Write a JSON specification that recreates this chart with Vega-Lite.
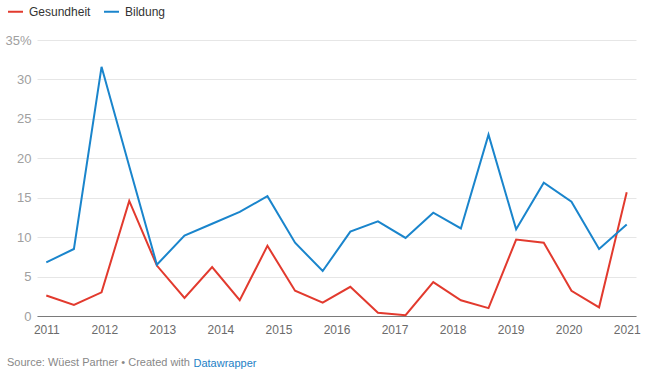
{
  "$schema": "https://vega.github.io/schema/vega-lite/v6.json",
  "width": 599,
  "height": 276,
  "autosize": {"type": "none"},
  "padding": {"left": 37, "top": 40, "right": 17, "bottom": 61},
  "background": "#ffffff",
  "config": {
    "font": "Liberation Sans",
    "view": {"stroke": null}
  },
  "title": {
    "text": "Source: Wüest Partner • Created with",
    "orient": "bottom",
    "anchor": "start",
    "frame": "group",
    "fontSize": 11,
    "fontWeight": "normal",
    "color": "#888888",
    "dx": -30,
    "offset": -11
  },
  "data": {
    "values": [
      {"x": 2011.000, "series": "Gesundheit", "value": 2.6},
      {"x": 2011.476, "series": "Gesundheit", "value": 1.4},
      {"x": 2011.952, "series": "Gesundheit", "value": 3.0},
      {"x": 2012.429, "series": "Gesundheit", "value": 14.6},
      {"x": 2012.905, "series": "Gesundheit", "value": 6.4},
      {"x": 2013.381, "series": "Gesundheit", "value": 2.3},
      {"x": 2013.857, "series": "Gesundheit", "value": 6.2},
      {"x": 2014.333, "series": "Gesundheit", "value": 2.0},
      {"x": 2014.810, "series": "Gesundheit", "value": 8.9},
      {"x": 2015.286, "series": "Gesundheit", "value": 3.2},
      {"x": 2015.762, "series": "Gesundheit", "value": 1.7},
      {"x": 2016.238, "series": "Gesundheit", "value": 3.7},
      {"x": 2016.714, "series": "Gesundheit", "value": 0.4},
      {"x": 2017.190, "series": "Gesundheit", "value": 0.1},
      {"x": 2017.667, "series": "Gesundheit", "value": 4.3},
      {"x": 2018.143, "series": "Gesundheit", "value": 2.0},
      {"x": 2018.619, "series": "Gesundheit", "value": 1.0},
      {"x": 2019.095, "series": "Gesundheit", "value": 9.7},
      {"x": 2019.571, "series": "Gesundheit", "value": 9.3},
      {"x": 2020.048, "series": "Gesundheit", "value": 3.2},
      {"x": 2020.524, "series": "Gesundheit", "value": 1.1},
      {"x": 2021.000, "series": "Gesundheit", "value": 15.7},
      {"x": 2011.000, "series": "Bildung", "value": 6.8},
      {"x": 2011.476, "series": "Bildung", "value": 8.5},
      {"x": 2011.952, "series": "Bildung", "value": 31.6},
      {"x": 2012.429, "series": "Bildung", "value": 19.0},
      {"x": 2012.905, "series": "Bildung", "value": 6.5},
      {"x": 2013.381, "series": "Bildung", "value": 10.2},
      {"x": 2013.857, "series": "Bildung", "value": 11.7},
      {"x": 2014.333, "series": "Bildung", "value": 13.2},
      {"x": 2014.810, "series": "Bildung", "value": 15.2},
      {"x": 2015.286, "series": "Bildung", "value": 9.3},
      {"x": 2015.762, "series": "Bildung", "value": 5.7},
      {"x": 2016.238, "series": "Bildung", "value": 10.7},
      {"x": 2016.714, "series": "Bildung", "value": 12.0},
      {"x": 2017.190, "series": "Bildung", "value": 9.9},
      {"x": 2017.667, "series": "Bildung", "value": 13.1},
      {"x": 2018.143, "series": "Bildung", "value": 11.1},
      {"x": 2018.619, "series": "Bildung", "value": 23.0},
      {"x": 2019.095, "series": "Bildung", "value": 11.0},
      {"x": 2019.571, "series": "Bildung", "value": 16.9},
      {"x": 2020.048, "series": "Bildung", "value": 14.5},
      {"x": 2020.524, "series": "Bildung", "value": 8.5},
      {"x": 2021.000, "series": "Bildung", "value": 11.6}
    ]
  },
  "mark": {"type": "line", "strokeWidth": 2, "strokeJoin": "miter"},
  "encoding": {
    "x": {
      "field": "x",
      "type": "quantitative",
      "scale": {"domain": [2010.84, 2021.16], "nice": false, "zero": false},
      "axis": {
        "values": [2011, 2012, 2013, 2014, 2015, 2016, 2017, 2018, 2019, 2020, 2021],
        "format": "d",
        "grid": false,
        "ticks": false,
        "domain": true,
        "domainColor": "#7a7a7a",
        "domainWidth": 1,
        "labelFontSize": 12,
        "labelColor": "#6b6b6b",
        "labelPadding": 8,
        "labelFlush": false,
        "title": "Datawrapper",
        "titleColor": "#1d81c6",
        "titleFontSize": 11,
        "titleFontWeight": "normal",
        "titleAlign": "left",
        "titleAnchor": "start",
        "titleBaseline": "alphabetic",
        "titleX": 156,
        "titleY": 50
      }
    },
    "y": {
      "field": "value",
      "type": "quantitative",
      "scale": {"domain": [0, 35], "nice": false},
      "axis": {
        "values": [0, 5, 10, 15, 20, 25, 30, 35],
        "labelExpr": "datum.value == 35 ? '35%' : datum.label",
        "grid": true,
        "gridColor": "#e6e6e6",
        "gridWidth": 1,
        "domain": false,
        "ticks": false,
        "labelFontSize": 13,
        "labelColor": "#a0a0a0",
        "labelPadding": 6,
        "title": null
      }
    },
    "color": {
      "field": "series",
      "type": "nominal",
      "scale": {"domain": ["Gesundheit", "Bildung"], "range": ["#e23a2e", "#1a85cc"]},
      "legend": {
        "title": null,
        "orient": "none",
        "direction": "horizontal",
        "legendX": -30,
        "legendY": -37,
        "symbolType": "stroke",
        "symbolSize": 225,
        "symbolStrokeWidth": 2,
        "labelFontSize": 12,
        "labelColor": "#333333",
        "labelOffset": 5,
        "columnPadding": 9,
        "padding": 0
      }
    }
  }
}
